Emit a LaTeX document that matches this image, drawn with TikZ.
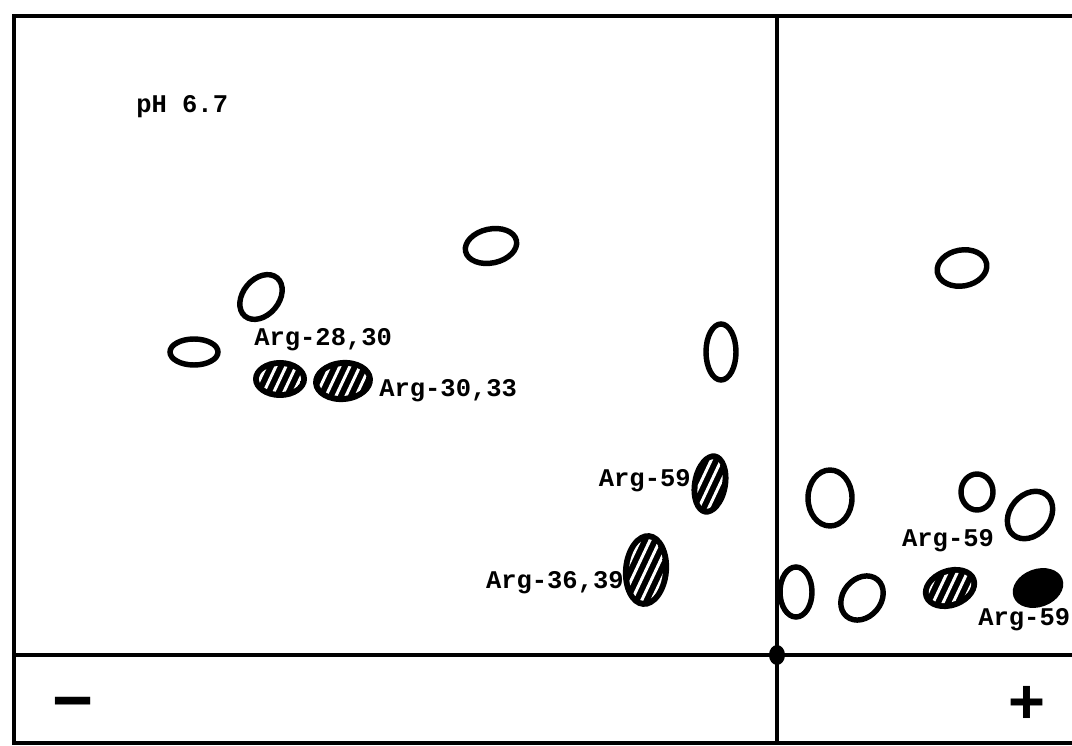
\documentclass[tikz,border=0pt]{standalone}
\usepackage{fontspec}
\usepackage{tikz}
\usetikzlibrary{calc}
\setmonofont{Liberation Mono}
\newfontfamily\signfont{Liberation Sans}

% hatched spot: centre, x radius, y radius, angle
\newcommand{\hatchspot}[4]{%
    \fill [rotate around={#4:(#1)}] (#1) ellipse ({#2} and {#3});
    \begin{scope}
        \clip [rotate around={#4:(#1)}] (#1) ellipse ({#2-6} and {#3-6});
        \foreach \k in {-5,...,5}
            \draw [hatch] ($(#1)+(\k*10,0)+(-16,34)$) -- ++(32,-68);
    \end{scope}}

\begin{document}
\begin{tikzpicture}[x=0.02cm, y=-0.02cm,
    frame/.style={line width=2.4pt},
    spot/.style={line width=3.1pt},
    hatch/.style={white, line width=1.7pt},
    lbl/.style={font=\ttfamily\bfseries\fontsize{14.5}{15}\selectfont, inner sep=0pt}]
    \useasboundingbox (0,0) rectangle (1072,746);

    % frame
    \coordinate (TL) at (14,16);
    \coordinate (BL) at (14,743);
    \coordinate (ML) at (14,655);
    \coordinate (O) at (777,655);
    \draw [frame] (1072,16) -- (TL) -- (BL) -- (1072,743);
    \draw [frame] (ML) -- (1072,655);
    \draw [line width=1.8pt] (777,16) -- (777,743);
    \fill (O) ellipse (8 and 10);

    \node [lbl, anchor=west] (ph) at (136,107) {pH 6.7};
    \node [font=\signfont\bfseries\fontsize{40}{40}\selectfont, inner sep=0pt] (minus) at (73,711) {−};
    \node [font=\signfont\bfseries\fontsize{36}{36}\selectfont, inner sep=0pt] (plus) at (1027,705) {+};

    % open spots
    \foreach \cx/\cy/\rx/\ry/\ang in {194/352/24/13/0, 261/297/25/18/50, 491/246/26/17/12,
        721/352/15/28/0, 962/268/25/18/10, 830/498/22/28/0, 977/492/16/18/0,
        1030/515/26/20/50, 796/592/16/25/0, 862/598/24/19/50}
        \draw [spot, rotate around={\ang:(\cx,\cy)}] (\cx,\cy) ellipse ({\rx} and {\ry});

    % hatched spots
    \hatchspot{280,379}{27}{19}{0}
    \hatchspot{343,381}{30}{21}{5}
    \hatchspot{710,484}{18}{31}{-10}
    \hatchspot{646,570}{23}{37}{-5}
    \hatchspot{950,588}{28}{20}{20}
    \fill [rotate around={20:(1038,588)}] (1038,588) ellipse (26 and 19);

    \node [lbl, anchor=west] (a2830) at (254,340) {Arg-28,30};
    \node [lbl, anchor=west] (a3033) at (379,391) {Arg-30,33};
    \node [lbl, anchor=east] (a59a) at (691,481) {Arg-59};
    \node [lbl, anchor=east] (a3639) at (624,583) {Arg-36,39};
    \node [lbl] (a59b) at (948,541) {Arg-59};
    \node [lbl, anchor=west] (a59c) at (978,620) {Arg-59};
\end{tikzpicture}
\end{document}
